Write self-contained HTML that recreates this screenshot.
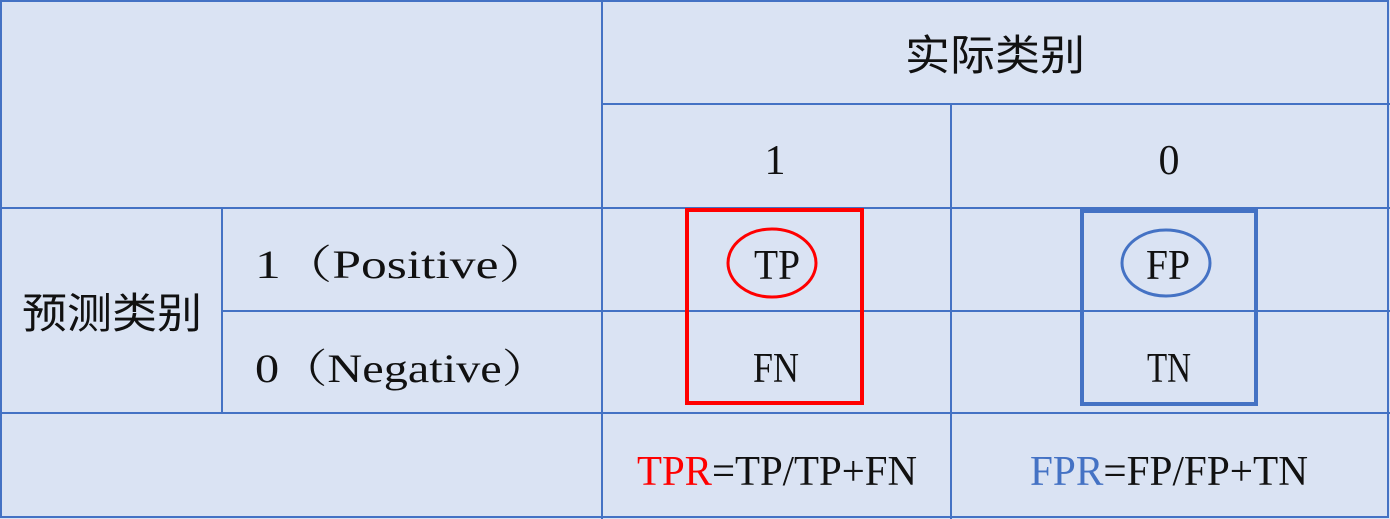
<!DOCTYPE html>
<html><head><meta charset="utf-8"><style>
html,body{margin:0;padding:0;background:#dae3f3;}
svg{display:block;}
text{font-family:"Liberation Serif","Noto Serif CJK SC",serif;fill:#111;}
.cjk{font-family:"Liberation Sans","Noto Sans CJK SC",sans-serif;}
</style></head><body>
<svg width="1390" height="519" viewBox="0 0 1390 519">
<rect x="0" y="0" width="1390" height="519" fill="#dae3f3"/>
<g stroke="#4472c4" stroke-width="2" fill="none">
<rect x="1" y="1" width="1387" height="516"/>
<line x1="602" y1="0" x2="602" y2="519"/>
<line x1="951" y1="104" x2="951" y2="519"/>
<line x1="222" y1="208" x2="222" y2="413"/>
<line x1="602" y1="104" x2="1390" y2="104"/>
<line x1="0" y1="208" x2="1390" y2="208"/>
<line x1="222" y1="311" x2="1390" y2="311"/>
<line x1="0" y1="413" x2="1390" y2="413"/>
</g>
<text class="cjk" x="905" y="70" font-size="42" textLength="180" lengthAdjust="spacingAndGlyphs">实际类别</text>
<text x="775" y="174" font-size="42" text-anchor="middle">1</text>
<text x="1169" y="174" font-size="42" text-anchor="middle">0</text>
<text class="cjk" x="22" y="328" font-size="42" textLength="180" lengthAdjust="spacingAndGlyphs">预测类别</text>
<text x="255" y="278" font-size="40" textLength="295" lengthAdjust="spacingAndGlyphs">1（Positive）</text>
<text x="255" y="382" font-size="40" textLength="295" lengthAdjust="spacingAndGlyphs">0（Negative）</text>
<text x="777" y="279" font-size="42" text-anchor="middle" textLength="46" lengthAdjust="spacingAndGlyphs">TP</text>
<text x="1168" y="279" font-size="42" text-anchor="middle" textLength="44" lengthAdjust="spacingAndGlyphs">FP</text>
<text x="776" y="382" font-size="42" text-anchor="middle" textLength="46" lengthAdjust="spacingAndGlyphs">FN</text>
<text x="1169" y="382" font-size="42" text-anchor="middle" textLength="44" lengthAdjust="spacingAndGlyphs">TN</text>
<rect x="687" y="210" width="175" height="193" fill="none" stroke="#ff0000" stroke-width="4"/>
<ellipse cx="772" cy="263" rx="44" ry="34" fill="none" stroke="#ff0000" stroke-width="3"/>
<rect x="1082" y="211" width="174" height="193" fill="none" stroke="#4472c4" stroke-width="4"/>
<ellipse cx="1166" cy="263" rx="44" ry="33" fill="none" stroke="#4472c4" stroke-width="3"/>
<text x="637" y="485" font-size="42" textLength="280" lengthAdjust="spacingAndGlyphs"><tspan fill="#ff0000">TPR</tspan>=TP/TP+FN</text>
<text x="1030" y="485" font-size="42" textLength="278" lengthAdjust="spacingAndGlyphs"><tspan fill="#4472c4">FPR</tspan>=FP/FP+TN</text>
</svg>
</body></html>
